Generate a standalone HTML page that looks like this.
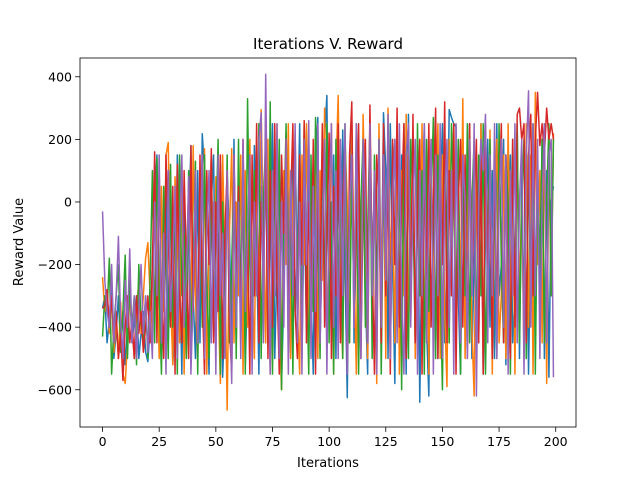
<!DOCTYPE html>
<html><head><meta charset="utf-8"><style>body{margin:0;background:#fff}svg{display:block;font-family:"DejaVu Sans","Liberation Sans",sans-serif}</style></head>
<body>
<svg id="chart" width="640" height="480" viewBox="0 0 640 480" xmlns="http://www.w3.org/2000/svg">
<rect width="640" height="480" fill="#fff"/>
<text x="328" y="49" text-anchor="middle" font-size="15" fill="#000">Iterations V. Reward</text>
<text x="328" y="467" text-anchor="middle" font-size="13" fill="#000">Iterations</text>
<text x="23" y="242" text-anchor="middle" font-size="13" fill="#000" transform="rotate(-90 23 242)">Reward Value</text>
<g id="plot"></g>
</svg>
<script>
const xTicks=[0,25,50,75,100,125,150,175,200];
const yTicks=[-600,-400,-200,0,200,400];
const seriesColors=["#1f77b4","#ff7f0e","#2ca02c","#d62728","#9467bd"];
const blue=[-340,-300,-450,-380,-250,-500,-420,-300,-480,-350,-520,-400,-280,-450,-380,-300,-500,-420,-350,-480,-510,-400,
-200,0,150,-300,-500,-100,60,-450,100,-520,-380,150,-200,-550,50,-400,-100,180,-300,-500,100,
-450,218,100,-300,-550,0,150,-400,-200,120,-560,-350,80,-100,-500,200,-450,20,-300,150,
-520,-250,100,-400,180,-150,-550,50,-300,200,-450,-100,250,-500,-200,100,-580,-300,220,-50,
-480,150,-350,-150,250,-500,0,-400,200,-300,-550,100,270,-450,-100,200,340,-400,-200,150,
-500,100,-300,230,-200,-625,0,250,-450,-100,200,-500,150,-300,-550,250,-200,50,-450,200,
-300,285,100,-500,250,-200,-580,200,-400,150,-50,-550,280,-300,100,-450,200,-640,-100,250,
-400,-620,150,-300,200,-500,0,250,-450,-200,295,270,250,240,-300,-550,200,-400,-100,250,
-500,-200,150,-450,250,-550,-100,200,-400,100,-500,250,-300,-200,200,-520,0,150,-450,-300,
250,-500,100,-350,200,-550,-100,250,-450,150,-300,200,-500,100,-560,0,50];
const orange=[-240,-350,-280,-420,-300,-480,-380,-500,-320,-550,-580,-450,-300,-400,-500,-350,-250,-420,-300,-180,-130,-300,
-450,100,-200,-500,50,-350,150,190,-300,-520,80,-100,-450,120,-550,-200,50,-400,180,-300,-500,
100,-250,170,-550,-100,150,-400,80,-300,-580,150,-200,-665,-100,170,-450,0,-300,150,-550,
100,-400,200,-250,-500,150,-300,295,-100,-450,200,-550,50,-300,250,-400,-600,100,-200,250,
-500,0,220,-350,-550,150,-200,250,-450,0,-300,200,-500,100,-250,300,-400,-150,250,-550,
100,340,-300,-500,200,0,-450,250,-200,-550,150,-350,280,-100,-500,200,-400,100,-580,250,
-300,150,-500,300,-200,0,-450,250,-550,100,-300,280,-400,-100,200,-500,150,-300,250,-450,
100,-550,200,-300,0,250,-500,150,-350,-590,200,-200,250,-450,100,-300,330,-500,0,200,
-400,-620,150,-300,250,-500,100,-200,230,-550,0,200,-450,-300,150,-500,250,-350,100,-550,
200,-300,0,-500,250,-400,150,-550,350,-200,100,-450,250,-580,150,-300,220];
const green=[-430,-300,-350,-180,-550,-400,-300,-200,-480,-350,-170,-500,-250,-400,-300,-520,-200,-380,-450,-300,-500,-250,
100,-450,140,-300,-550,50,-200,-500,120,-400,0,-550,150,-300,-100,-500,100,-450,-200,130,-550,
0,-400,150,-250,-500,100,-350,-100,200,-550,0,-300,150,-450,-200,100,-500,200,-350,50,
-550,330,-200,-450,100,-300,250,-500,0,200,-400,320,-550,100,-250,200,-600,-100,250,-400,
0,-550,200,-300,100,-450,250,-200,-550,150,-350,270,-100,-500,200,-300,250,-450,0,-550,
200,-300,150,-500,250,-200,-450,100,-350,250,-550,0,200,-400,-100,250,-500,150,-300,200,
-550,100,-250,250,-450,0,200,-400,150,-600,250,-200,-500,200,0,-450,250,-300,100,-550,
200,-350,0,270,-500,150,-250,-600,200,-100,-450,250,0,-400,200,-550,100,-300,250,-450,
0,200,-500,150,-300,250,-550,-100,200,-400,100,-500,250,-200,-450,150,0,-550,200,-300,
250,-450,0,200,-500,150,-350,250,-550,100,-200,200,-450,0,250,-300,200];
const red=[-340,-330,-280,-400,-300,-450,-350,-500,-420,-570,-400,-300,-450,-380,-500,-300,-420,-350,-480,-400,-300,-450,
-200,160,-450,100,-300,-500,150,-100,-400,50,-550,120,-300,-450,100,-200,-500,180,-350,0,-450,
150,-300,-550,100,-200,170,-450,0,-350,150,-500,-100,100,-400,-550,150,-250,50,-450,200,
-350,-100,-550,150,-300,250,-450,0,-200,200,-500,100,-400,250,-250,-550,150,-100,200,-450,
0,250,-350,-500,150,-200,260,-450,0,-300,200,-550,100,-250,250,-400,-100,220,-500,50,
-300,250,-450,0,200,-550,150,320,-350,-100,250,-500,0,200,-400,310,-200,-550,150,0,
-450,250,-300,100,-550,200,-200,300,-400,0,250,-500,150,-300,280,-450,0,200,-550,100,
-250,250,-400,0,300,-500,150,-200,320,-450,100,-300,250,-550,0,200,-400,150,-500,250,
-300,0,200,-450,150,-550,250,-200,100,-500,200,-350,0,250,-450,150,-300,-500,200,-400,
280,300,200,250,-450,150,280,-300,200,350,180,250,150,300,200,250,200];
const purple=[-30,-250,-350,-400,-200,-450,-300,-110,-380,-500,-250,-400,-150,-450,-300,-500,-350,-200,-420,-300,-480,-350,
-500,0,-300,150,-450,-100,-550,100,-350,-200,50,-500,-100,150,-400,-250,80,-550,-300,100,-450,
-200,150,-500,-100,100,-450,0,-550,150,-300,-100,-500,100,-250,-580,150,-400,0,-500,200,
-350,-100,150,-550,0,-300,200,285,-450,408,-200,-550,100,-300,250,-500,0,-400,200,-550,
100,-300,250,-450,0,-550,200,-200,260,-500,50,-350,250,-450,-100,200,-550,0,250,-400,
100,-500,200,-300,250,-550,0,150,-400,250,-200,-500,200,0,-450,250,-300,100,-550,200,
-400,150,-250,280,-500,0,200,-450,250,-300,-550,150,250,-400,0,200,-550,100,-300,250,
-450,0,200,-550,150,-300,250,-500,0,200,-400,100,-550,250,-200,-450,150,0,-500,200,
-300,250,-620,0,200,100,280,-450,150,-300,250,-500,0,200,-400,150,-550,100,-300,250,
-450,0,200,-550,150,355,-400,250,-300,200,-500,0,250,-450,150,200,-560];
const allSeries=[blue,orange,green,red,purple];
const seriesNames=["series-1","series-2","series-3","series-4","series-5"];

const L=80,R=576,T=58,B=427;
const xMin=-9.95,xMax=208.95,yMin=-719,yMax=460;
const xs=v=>L+(v-xMin)/(xMax-xMin)*(R-L);
const ys=v=>B-(v-yMin)/(yMax-yMin)*(B-T);
const NS="http://www.w3.org/2000/svg";
const g=document.getElementById('plot');
function mk(tag,attrs){const e=document.createElementNS(NS,tag);for(const k in attrs)e.setAttribute(k,attrs[k]);return e;}

allSeries.forEach((s,si)=>{
  const d=s.map((v,i)=>(i?'L':'M')+xs(i).toFixed(2)+' '+ys(v).toFixed(2)).join(' ');
  const p=mk('path',{d:d,fill:'none',stroke:seriesColors[si],'stroke-width':1.5,'stroke-linejoin':'round'});
  
  
  g.appendChild(p);
});
const frame=mk('rect',{x:L,y:T,width:R-L,height:B-T,fill:'none',stroke:'#000','stroke-width':0.8});


g.appendChild(frame);
xTicks.forEach(t=>{
  const x=xs(t);
  const ln=mk('line',{x1:x,x2:x,y1:B,y2:B+4.9,stroke:'#000','stroke-width':0.8});
  
  
  g.appendChild(ln);
  const tx=mk('text',{x:x,y:B+19,'text-anchor':'middle','font-size':12.5,fill:'#000'});
  tx.textContent=t;
  
  
  g.appendChild(tx);
});
yTicks.forEach(t=>{
  const y=ys(t);
  const ln=mk('line',{x1:L-4.9,x2:L,y1:y,y2:y,stroke:'#000','stroke-width':0.8});
  
  
  g.appendChild(ln);
  const tx=mk('text',{x:L-8,y:y+4.5,'text-anchor':'end','font-size':12.5,fill:'#000'});
  tx.textContent=t<0?'\u2212'+(-t):t;
  
  
  g.appendChild(tx);
});
</script>
</body></html>
